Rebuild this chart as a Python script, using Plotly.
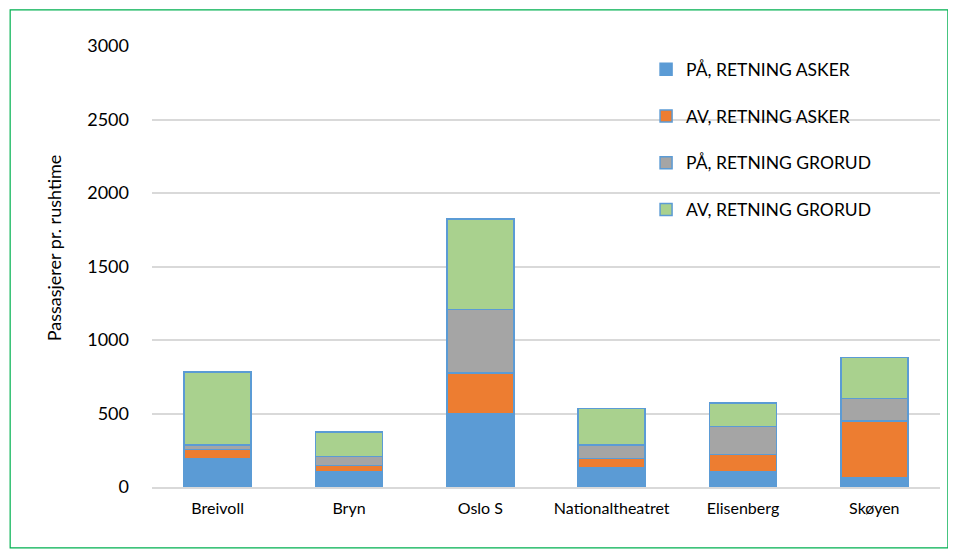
import plotly.graph_objects as go

# Stations and passenger counts per rush hour
stations = ["Breivoll", "Bryn", "Oslo S", "Nationaltheatret", "Elisenberg", "Skøyen"]
paa_asker = [190, 102, 496, 131, 104, 66]
av_asker = [66, 43, 279, 64, 118, 383]
paa_grorud = [30, 61, 433, 91, 188, 154]
av_grorud = [498, 168, 614, 249, 163, 279]

series = [
    ("PÅ, RETNING ASKER", paa_asker, "#5B9BD5"),
    ("AV, RETNING ASKER", av_asker, "#ED7D31"),
    ("PÅ, RETNING GRORUD", paa_grorud, "#A5A5A5"),
    ("AV, RETNING GRORUD", av_grorud, "#A9D18E"),
]

fig = go.Figure()
for i, (name, vals, color) in enumerate(series):
    fig.add_trace(go.Bar(
        x=stations, y=vals, name=name, legendgroup=str(i),
        marker=dict(color=color, line=dict(color="#5B9BD5", width=1.5)),
    ))

# page body has an 8px margin, so the figure is made a bit smaller
fig.update_layout(
    width=940, height=544,
    barmode="stack", bargap=0.49,
    paper_bgcolor="white", plot_bgcolor="white",
    margin=dict(l=144, r=8, t=38, b=65),
    font=dict(family="Lato, 'Open Sans', sans-serif", color="#000000"),
    showlegend=True,
    legend=dict(
        x=0.627, y=0.988, xanchor="left", yanchor="top",
        traceorder="grouped", tracegroupgap=21,
        font=dict(size=17.5), bgcolor="rgba(0,0,0,0)",
    ),
    xaxis=dict(tickfont=dict(size=16), showline=True, linecolor="#d9d9d9",
               linewidth=1.5, ticks="", ticklabelstandoff=6),
    yaxis=dict(range=[0, 3000], dtick=500, tickfont=dict(size=18),
               gridcolor="#d9d9d9", gridwidth=1.5, zeroline=False,
               ticks="", ticklen=0, ticklabelstandoff=22),
    # y title placed a bit above the middle, as in the original
    annotations=[dict(text="Passasjerer pr. rushtime", textangle=-90,
                      xref="paper", yref="paper", x=-0.124, y=0.542,
                      xanchor="center", yanchor="middle",
                      showarrow=False, font=dict(size=18))],
    shapes=[dict(type="rect", xref="paper", yref="paper",
                 x0=-0.180, x1=1.010, y0=-0.138, y1=1.082,
                 line=dict(color="#00B050", width=1.2))],
)

fig.write_html("out.html")
